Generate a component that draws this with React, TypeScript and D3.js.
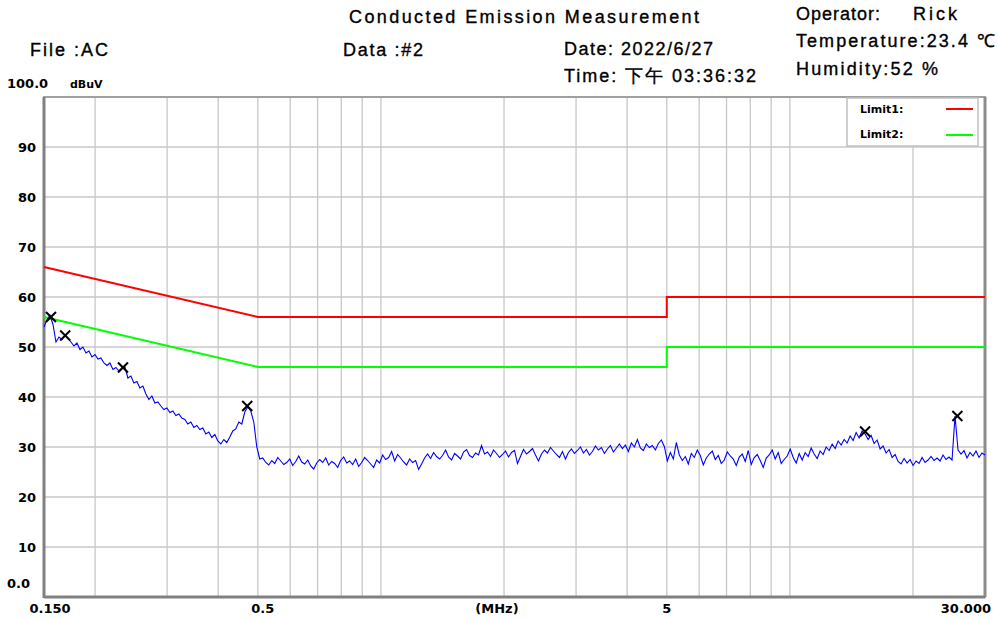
import React from "react";
import * as d3 from "d3";

// sweep of the receiver (log spaced points between start and stop)
const SWEEP_START = 0.15;
const SWEEP_STOP = 30;

// measured trace, dBuV, one value per sweep point
const traceLevels = [
  // 0.15 - 0.5 MHz
  54.0, 55.5, 56.3, 54.5, 51.0, 52.0, 51.5, 52.4, 51.8, 51.0, 50.2, 50.8, 49.5, 50.0, 48.8,
  49.2, 48.0, 48.5, 47.6, 47.8, 46.8, 46.3, 46.8, 45.5, 45.9, 45.2, 45.8, 46.0, 43.8, 44.2,
  42.8, 43.1, 41.8, 42.2, 40.6, 39.5, 40.2, 38.8, 39.0, 38.2, 37.5, 37.8, 36.9, 37.2, 36.3,
  36.6, 35.8, 35.5, 34.6, 35.0, 33.9, 34.3, 33.5, 33.8, 32.6, 33.0, 31.9, 32.5, 31.2, 30.6,
  31.5, 30.9, 32.0, 33.2, 33.6, 35.0, 34.6, 37.0, 38.0, 37.2, 35.0, 30.0, 27.6,
  // 0.5 - 5 MHz
  27.8, 26.9, 26.4, 27.3, 26.7, 27.9, 27.2, 26.5, 26.9, 27.6, 26.3, 27.1, 28.2, 27.0, 26.6,
  27.4, 26.2, 25.6, 26.8, 27.5, 26.9, 27.8, 26.4, 27.1, 26.7, 25.9, 27.3, 28.0, 26.8, 27.2,
  26.5, 27.6, 26.1, 26.9, 27.9, 27.3, 26.6, 25.9, 27.4, 26.8, 28.4, 27.5, 27.9, 29.1, 27.2,
  28.5, 27.8, 27.0, 26.4, 27.6, 26.9, 27.3, 25.5, 26.6, 27.8, 28.6, 27.7, 28.9, 28.1, 27.6,
  28.3, 29.4, 28.0, 27.4, 28.7, 28.2, 27.6, 29.0, 29.5, 28.3, 27.9, 28.8, 28.4, 30.3, 28.6,
  29.0, 28.1, 29.4, 28.7, 27.9, 28.5, 29.2, 28.0, 28.9, 29.3, 26.7, 28.1, 29.5, 28.6, 29.1,
  29.7, 28.4, 27.2, 28.6, 29.4, 28.8, 29.9, 29.2, 28.5, 27.9, 29.1, 27.6, 28.9, 29.6, 28.7,
  29.3, 30.0, 28.8, 29.5, 28.4, 29.1, 30.2, 29.4, 29.9, 28.7, 29.6, 30.3, 29.0, 29.8, 30.6,
  29.7, 30.4, 29.1, 30.8, 30.0, 31.5, 29.8, 29.3, 30.6, 29.9, 30.3, 29.4, 30.7, 31.4, 30.1,
  // 5 - 30 MHz
  27.2, 28.9, 27.6, 30.9, 28.4, 27.3, 28.1, 26.6, 28.7, 27.9, 29.4, 28.3, 26.4, 27.8, 28.6,
  29.2, 27.5, 28.3, 26.7, 27.4, 29.0, 28.2, 27.6, 26.3, 28.0, 28.6, 27.1, 29.3, 26.5, 27.9,
  28.5, 27.3, 25.9, 27.8, 28.4, 29.4, 27.6, 28.9, 26.7, 27.5, 28.2, 29.6, 27.9, 26.8, 28.7,
  27.4, 28.9, 28.1, 29.8, 28.6, 27.7, 29.2, 28.5, 30.0, 29.3, 30.6, 29.7, 31.2, 30.4, 31.5,
  30.8, 32.2, 31.3, 32.9, 31.8, 33.2, 32.6, 31.5, 32.3, 30.7, 31.4, 29.6, 30.2, 28.8, 29.5,
  27.9, 28.5, 27.1, 26.6, 27.7, 26.8, 27.5, 26.3, 27.2, 26.7, 27.9, 26.9, 27.4, 28.1, 27.3,
  27.8, 27.2, 28.4, 27.5, 28.0, 27.4, 36.2, 29.4, 28.6, 29.3, 27.8, 28.9, 28.2, 29.2, 27.9,
  28.8, 28.4,
];

// limit lines
const limitFreqs = [0.15, 0.5, 5, 5, 30];
const limit1Levels = [66, 56, 56, 60, 60];
const limit2Levels = [56, 46, 46, 50, 50];

// peak markers
const markerFreqs = [0.156, 0.169, 0.234, 0.471, 15.27, 25.68];
const markerLevels = [56.0, 52.3, 45.9, 38.2, 33.1, 36.2];

// axis
const yTicks = [10, 20, 30, 40, 50, 60, 70, 80, 90];
const xGrid = [0.2, 0.3, 0.4, 0.5, 0.6, 0.7, 0.8, 0.9, 1, 2, 3, 4, 5, 6, 7, 8, 9, 10, 20];

const W = 998;
const H = 619;
const plot = { left: 44, right: 985, top: 97, bottom: 597 };

export default function App() {
  const x = d3.scaleLog().domain([0.15, 30]).range([plot.left, plot.right]);
  const y = d3.scaleLinear().domain([0, 100]).range([plot.bottom, plot.top]);

  const n = traceLevels.length;
  const sweep = d3.range(n).map((i) => SWEEP_START * Math.pow(SWEEP_STOP / SWEEP_START, i / (n - 1)));

  const line = d3
    .line<[number, number]>()
    .x((d) => x(d[0]))
    .y((d) => y(d[1]));

  const tracePath = line(sweep.map((f, i) => [f, traceLevels[i]]));
  const limit1Path = line(limitFreqs.map((f, i) => [f, limit1Levels[i]]));
  const limit2Path = line(limitFreqs.map((f, i) => [f, limit2Levels[i]]));

  const axisFont = "'DejaVu Sans', sans-serif";
  const headFont = "'Liberation Sans', Arial, sans-serif";

  return (
    <svg
      width={W}
      height={H}
      style={{ position: "absolute", left: 0, top: 0, background: "#fff" }}
    >
      {/* header */}
      <g fontFamily={headFont} fontSize={18} fill="#000" stroke="#000" strokeWidth={0.35}>
        <text x={349} y={23} textLength={350} lengthAdjust="spacing">Conducted Emission Measurement</text>
        <text x={30} y={56} textLength={78} lengthAdjust="spacing">File :AC</text>
        <text x={343} y={56} textLength={80} lengthAdjust="spacing">Data :#2</text>
        <text x={564} y={55} textLength={149} lengthAdjust="spacing">Date: 2022/6/27</text>
        <text x={564} y={82} textLength={192} lengthAdjust="spacing">Time: 下午 03:36:32</text>
        <text x={796} y={20} textLength={84} lengthAdjust="spacing">Operator:</text>
        <text x={913} y={20} textLength={44} lengthAdjust="spacing">Rick</text>
        <text x={796} y={47} textLength={199} lengthAdjust="spacing">Temperature:23.4 ℃</text>
        <text x={796} y={75} textLength={142} lengthAdjust="spacing">Humidity:52 %</text>
      </g>

      {/* grid */}
      <g stroke="#c8c8c8" strokeWidth={1.3}>
        {xGrid.map((f) => (
          <line key={"v" + f} x1={x(f)} x2={x(f)} y1={plot.top} y2={plot.bottom} />
        ))}
        {yTicks.map((v) => (
          <line key={"h" + v} x1={plot.left} x2={plot.right} y1={y(v)} y2={y(v)} />
        ))}
      </g>

      {/* frame */}
      <rect
        x={plot.left}
        y={plot.top}
        width={plot.right - plot.left}
        height={plot.bottom - plot.top}
        fill="none"
        stroke="#a0a0a0"
        strokeWidth={2}
      />
      <line x1={plot.right} x2={plot.right} y1={plot.top} y2={plot.bottom} stroke="#8c8c8c" strokeWidth={3} />
      <line x1={plot.left} x2={plot.left} y1={plot.top} y2={plot.bottom + 1} stroke="#808080" strokeWidth={3} />
      <line x1={plot.left} x2={plot.right} y1={plot.bottom} y2={plot.bottom} stroke="#808080" strokeWidth={3} />

      {/* limits */}
      <path d={limit1Path || ""} fill="none" stroke="#ff0000" strokeWidth={2} />
      <path d={limit2Path || ""} fill="none" stroke="#00ff00" strokeWidth={2} />

      {/* trace */}
      <path d={tracePath || ""} fill="none" stroke="#0000ff" strokeWidth={1.1} />

      {/* markers */}
      <g stroke="#000" strokeWidth={2}>
        {markerFreqs.map((f, i) => {
          const cx = x(f);
          const cy = y(markerLevels[i]);
          return (
            <g key={"m" + i}>
              <line x1={cx - 5} y1={cy - 5} x2={cx + 5} y2={cy + 5} />
              <line x1={cx - 5} y1={cy + 5} x2={cx + 5} y2={cy - 5} />
            </g>
          );
        })}
      </g>

      {/* legend */}
      <rect x={847} y={98} width={131} height={48} fill="#fff" stroke="#c0c0c0" strokeWidth={1.5} />
      <g fontFamily={axisFont} fontSize={11} fontWeight="bold" fill="#000">
        <text x={860} y={113}>Limit1:</text>
        <text x={860} y={138}>Limit2:</text>
      </g>
      <line x1={946} x2={973} y1={109} y2={109} stroke="#ff0000" strokeWidth={2} />
      <line x1={946} x2={973} y1={135} y2={135} stroke="#00ff00" strokeWidth={2} />

      {/* y axis labels */}
      <g fontFamily={axisFont} fontSize={13} fontWeight="bold" fill="#000">
        <text x={7} y={88}>100.0</text>
        <text x={70} y={88} fontSize={11}>dBuV</text>
        {yTicks.map((v) => (
          <text key={"yl" + v} x={18} y={y(v) + 5}>
            {v}
          </text>
        ))}
        <text x={7} y={588}>0.0</text>
      </g>

      {/* x axis labels */}
      <g fontFamily={axisFont} fontSize={13} fontWeight="bold" fill="#000" textAnchor="middle">
        <text x={x(0.15) + 6} y={613}>0.150</text>
        <text x={x(0.5) + 5} y={613}>0.5</text>
        <text x={497} y={613}>(MHz)</text>
        <text x={x(5)} y={613}>5</text>
        <text x={991} y={613} textAnchor="end">30.000</text>
      </g>
    </svg>
  );
}
